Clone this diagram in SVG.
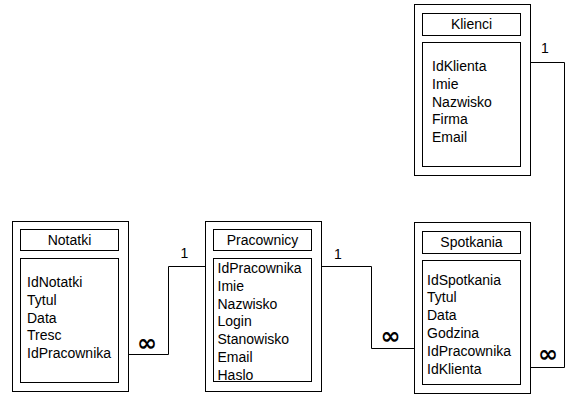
<svg xmlns="http://www.w3.org/2000/svg" width="578" height="402" viewBox="0 0 578 402">
<style>
rect{fill:#fff;stroke:#000;stroke-width:1}
text{font-family:"Liberation Sans",Arial,sans-serif;font-size:14px;fill:#000}
.t{text-anchor:middle}
.inf{font-family:"DejaVu Sans",sans-serif;font-weight:bold;font-size:24px;text-anchor:middle}
.c{fill:none;stroke:#000;stroke-width:1}
</style>
<rect x="0" y="0" width="578" height="402" style="stroke:none"/>
<g id="klienci">
<rect x="414.5" y="4.5" width="116" height="171"/>
<rect x="422.5" y="13.5" width="98" height="22"/>
<rect x="422.5" y="42.5" width="98" height="124"/>
<text class="t" x="471.5" y="29">Klienci</text>
<text x="432" y="71"><tspan x="432">IdKlienta</tspan><tspan x="432" dy="17.8">Imie</tspan><tspan x="432" dy="17.8">Nazwisko</tspan><tspan x="432" dy="17.8">Firma</tspan><tspan x="432" dy="17.8">Email</tspan></text>
</g>
<g id="notatki">
<rect x="12.5" y="221.5" width="116" height="170"/>
<rect x="20.5" y="229.5" width="98" height="21"/>
<rect x="20.5" y="258.5" width="98" height="124"/>
<text class="t" x="69.5" y="245">Notatki</text>
<text x="27" y="287"><tspan x="27">IdNotatki</tspan><tspan x="27" dy="17.8">Tytul</tspan><tspan x="27" dy="17.8">Data</tspan><tspan x="27" dy="17.8">Tresc</tspan><tspan x="27" dy="17.8">IdPracownika</tspan></text>
</g>
<g id="pracownicy">
<rect x="205.5" y="221.5" width="116" height="170"/>
<rect x="213.5" y="229.5" width="98" height="21"/>
<rect x="213.5" y="258.5" width="98" height="123"/>
<text class="t" x="262.5" y="245">Pracownicy</text>
<text x="217.5" y="273"><tspan x="217.5">IdPracownika</tspan><tspan x="217.5" dy="17.8">Imie</tspan><tspan x="217.5" dy="17.8">Nazwisko</tspan><tspan x="217.5" dy="17.8">Login</tspan><tspan x="217.5" dy="17.8">Stanowisko</tspan><tspan x="217.5" dy="17.8">Email</tspan><tspan x="217.5" dy="17.8">Haslo</tspan></text>
</g>
<g id="spotkania">
<rect x="414.5" y="222.5" width="116" height="171"/>
<rect x="422.5" y="231.5" width="98" height="22"/>
<rect x="422.5" y="260.5" width="98" height="124"/>
<text class="t" x="471.5" y="247">Spotkania</text>
<text x="427" y="284.5"><tspan x="427">IdSpotkania</tspan><tspan x="427" dy="17.8">Tytul</tspan><tspan x="427" dy="17.8">Data</tspan><tspan x="427" dy="17.8">Godzina</tspan><tspan x="427" dy="17.8">IdPracownika</tspan><tspan x="427" dy="17.8">IdKlienta</tspan></text>
</g>
<g id="connectors">
<path class="c" d="M128.5,354.5 H168.5 V266.5 H205.5"/>
<path class="c" d="M321.5,266.5 H371.5 V348.5 H414.5"/>
<path class="c" d="M530.5,62.5 H564.5 V367.5 H530.5"/>
<text x="180.5" y="257.5">1</text>
<text x="334" y="258.5">1</text>
<text x="541" y="53">1</text>
<text class="inf" x="147" y="350.5">∞</text>
<text class="inf" x="390.5" y="343.5">∞</text>
<text class="inf" x="548" y="361.5">∞</text>
</g>
</svg>
